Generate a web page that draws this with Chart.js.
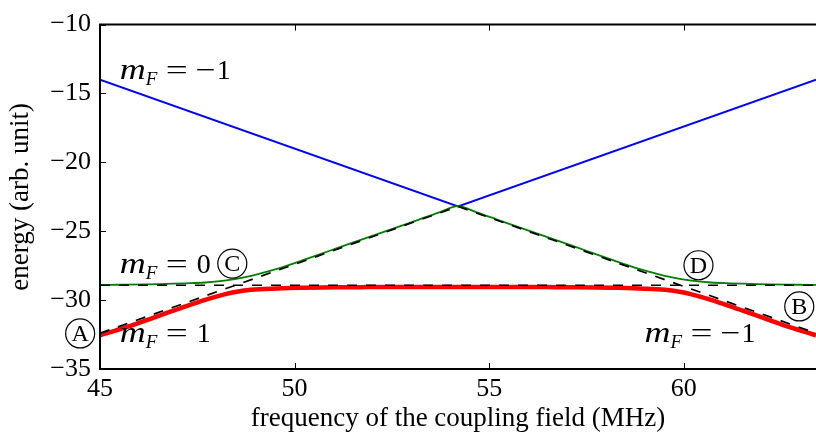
<!DOCTYPE html>
<html lang="en">
<head>
    <meta charset="UTF-8">
    <title>Avoided crossing of dressed states</title>
    <style>
        * { margin: 0; padding: 0; box-sizing: border-box; }
        body { background: #fff; width: 816px; height: 442px; overflow: hidden; }
        .chart-box { position: relative; width: 816px; height: 442px; }
    </style>
</head>
<body>
    <div class="chart-box">
        <canvas id="energy-chart" width="816" height="442"></canvas>
    </div>

    <script src="https://cdn.jsdelivr.net/npm/chart.js"></script>
    <script>
        // Coupling frequency samples (MHz), symmetric around the crossing at 54.2
        const freq = [45, 45.2, 45.7, 46.2, 46.7, 47.2, 47.7, 48.2, 48.7, 49.2, 49.7, 50.2, 50.7, 51.2, 51.7, 52.2, 52.7, 53.2, 53.7,
                      54.2, 54.7, 55.2, 55.7, 56.2, 56.7, 57.2, 57.7, 58.2, 58.7, 59.2, 59.7, 60.2, 60.7, 61.2, 61.7, 62.2, 62.7, 63.2, 63.4];

        // upper dressed state (green)
        const upperState = [-28.90, -28.89, -28.88, -28.86, -28.82, -28.78, -28.72, -28.58, -28.35, -28.00, -27.60, -27.12, -26.62, -26.12, -25.63, -25.14, -24.65, -24.15, -23.65,
                            -23.18, -23.65, -24.15, -24.65, -25.14, -25.63, -26.12, -26.62, -27.12, -27.60, -28.00, -28.35, -28.58, -28.72, -28.78, -28.82, -28.86, -28.88, -28.89, -28.90];

        // lower dressed state (red)
        const lowerState = [-32.55, -32.38, -31.95, -31.45, -30.95, -30.45, -29.98, -29.58, -29.30, -29.19, -29.13, -29.10, -29.08, -29.07, -29.06, -29.05, -29.05, -29.05, -29.05,
                            -29.05, -29.05, -29.05, -29.05, -29.05, -29.06, -29.07, -29.08, -29.10, -29.13, -29.19, -29.30, -29.58, -29.98, -30.45, -30.95, -31.45, -31.95, -32.38, -32.55];

        // bare states: mF = -1 (blue), mF = 0 and mF = 1 / -1 (dashed)
        const bareFreq = [45, 54.2, 63.4];
        const bareMinus = [-14, -23.2, -14];
        const bareCross = [-32.4, -23.2, -32.4];
        const flatFreq = [45, 63.4];
        const flatZero = [-28.92, -28.92];

        const xTicks = [45, 50, 55, 60];
        const yTicks = [-35, -30, -25, -20, -15, -10];

        // text placed in data coordinates
        const stateLabels = [
            { x: 45.51, y: -13.92, value: '\u22121' },
            { x: 45.51, y: -28.05, value: '0' },
            { x: 45.51, y: -33.07, value: '1' },
            { x: 58.99, y: -33.07, value: '\u22121' }
        ];
        const circleMarks = [
            { x: 44.49, y: -32.42, letter: 'A' },
            { x: 62.97, y: -30.46, letter: 'B' },
            { x: 48.40, y: -27.35, letter: 'C' },
            { x: 60.38, y: -27.47, letter: 'D' }
        ];

        const serif = "'Liberation Serif', 'DejaVu Serif', serif";
        const pts = (xs, ys) => xs.map((x, i) => ({ x: x, y: ys[i] }));

        // draw text squeezed/stretched to a given width (math glyphs are wide)
        function fitText(ctx, text, x, y, width) {
            const w = ctx.measureText(text).width;
            ctx.save();
            ctx.translate(x, y);
            ctx.scale(width / w, 1);
            ctx.fillText(text, 0, 0);
            ctx.restore();
        }

        // frame, inward ticks and the text annotations
        const decorPlugin = {
            id: 'decor',
            afterDatasetsDraw(chart) {
                const { ctx, chartArea: a, scales: { x, y } } = chart;
                ctx.save();
                ctx.strokeStyle = '#000';
                ctx.lineWidth = 2;
                ctx.beginPath();
                ctx.moveTo(a.right + 2, a.top);
                ctx.lineTo(a.left, a.top);
                ctx.lineTo(a.left, a.bottom);
                ctx.lineTo(a.right + 2, a.bottom);
                ctx.stroke();

                ctx.lineWidth = 1;
                ctx.beginPath();
                xTicks.forEach(v => {
                    const px = Math.round(x.getPixelForValue(v)) + 0.5;
                    ctx.moveTo(px, a.bottom); ctx.lineTo(px, a.bottom - 6);
                    ctx.moveTo(px, a.top); ctx.lineTo(px, a.top + 6);
                });
                yTicks.forEach(v => {
                    const py = Math.round(y.getPixelForValue(v)) + 0.5;
                    ctx.moveTo(a.left, py); ctx.lineTo(a.left + 6, py);
                });
                ctx.stroke();
                ctx.restore();
            },
            afterDraw(chart) {
                const { ctx, scales: { x, y } } = chart;
                ctx.save();
                ctx.fillStyle = '#000';
                ctx.textBaseline = 'alphabetic';
                ctx.textAlign = 'left';
                stateLabels.forEach(l => {
                    const px = x.getPixelForValue(l.x);
                    const py = y.getPixelForValue(l.y);
                    ctx.font = 'italic 30px ' + serif;
                    fitText(ctx, 'm', px, py, 26);
                    ctx.font = 'italic 19px ' + serif;
                    ctx.fillText('F', px + 26, py + 6);
                    ctx.font = '28px ' + serif;
                    fitText(ctx, '=', px + 46, py, 22);
                    if (l.value.length > 1) {
                        fitText(ctx, '\u2212', px + 76, py, 20);
                        ctx.fillText(l.value.slice(1), px + 97, py);
                    } else {
                        ctx.fillText(l.value, px + 77, py);
                    }
                });

                circleMarks.forEach(c => {
                    const px = x.getPixelForValue(c.x);
                    const py = y.getPixelForValue(c.y);
                    ctx.lineWidth = 1.2;
                    ctx.strokeStyle = '#000';
                    ctx.beginPath();
                    ctx.arc(px, py, 14.5, 0, Math.PI * 2);
                    ctx.stroke();
                    ctx.font = '24px ' + serif;
                    ctx.textAlign = 'center';
                    ctx.textBaseline = 'middle';
                    ctx.fillText(c.letter, px, py + 1);
                    ctx.textAlign = 'left';
                    ctx.textBaseline = 'alphabetic';
                });
                ctx.restore();
            }
        };

        const ctx = document.getElementById('energy-chart').getContext('2d');
        new Chart(ctx, {
            type: 'line',
            data: {
                datasets: [
                    { data: pts(flatFreq, flatZero), borderColor: '#000', borderWidth: 1.7, borderDash: [10, 9], order: 0 },
                    { data: pts(bareFreq, bareCross), borderColor: '#000', borderWidth: 1.7, borderDash: [10, 9], order: 0 },
                    { data: pts(bareFreq, bareMinus), borderColor: '#0000ff', borderWidth: 1.9, order: 3 },
                    { data: pts(freq, upperState), borderColor: '#008000', borderWidth: 1.8, cubicInterpolationMode: 'monotone', order: 2 },
                    { data: pts(freq, lowerState), borderColor: '#ff0000', borderWidth: 4.5, cubicInterpolationMode: 'monotone', order: 1 }
                ]
            },
            options: {
                responsive: false,
                animation: false,
                events: [],
                elements: { point: { radius: 0 } },
                layout: { padding: { top: 12, right: 0, left: 0, bottom: 0 } },
                plugins: { legend: { display: false }, tooltip: { enabled: false } },
                scales: {
                    x: {
                        type: 'linear',
                        min: 45,
                        max: 63.4,
                        grid: { display: false, drawTicks: false },
                        border: { display: false },
                        afterBuildTicks: s => { s.ticks = xTicks.map(v => ({ value: v })); },
                        afterFit: s => { s.height = 73; },
                        ticks: { color: '#000', padding: 5, maxRotation: 0, font: { family: serif, size: 26 } },
                        title: { display: true, text: 'frequency of the coupling field (MHz)', color: '#000',
                                 padding: { top: 0, bottom: 7 }, font: { family: serif, size: 27 } }
                    },
                    y: {
                        min: -35,
                        max: -10,
                        grid: { display: false, drawTicks: false },
                        border: { display: false },
                        afterBuildTicks: s => { s.ticks = yTicks.map(v => ({ value: v })); },
                        afterFit: s => { s.width = 100; },
                        ticks: { color: '#000', padding: 9, font: { family: serif, size: 26 },
                                 callback: v => String(v).replace('-', '\u2212') },
                        title: { display: true, text: 'energy (arb. unit)', color: '#000',
                                 padding: { top: 5, bottom: 0 }, font: { family: serif, size: 27 } }
                    }
                }
            },
            plugins: [decorPlugin]
        });
    </script>
</body>
</html>
